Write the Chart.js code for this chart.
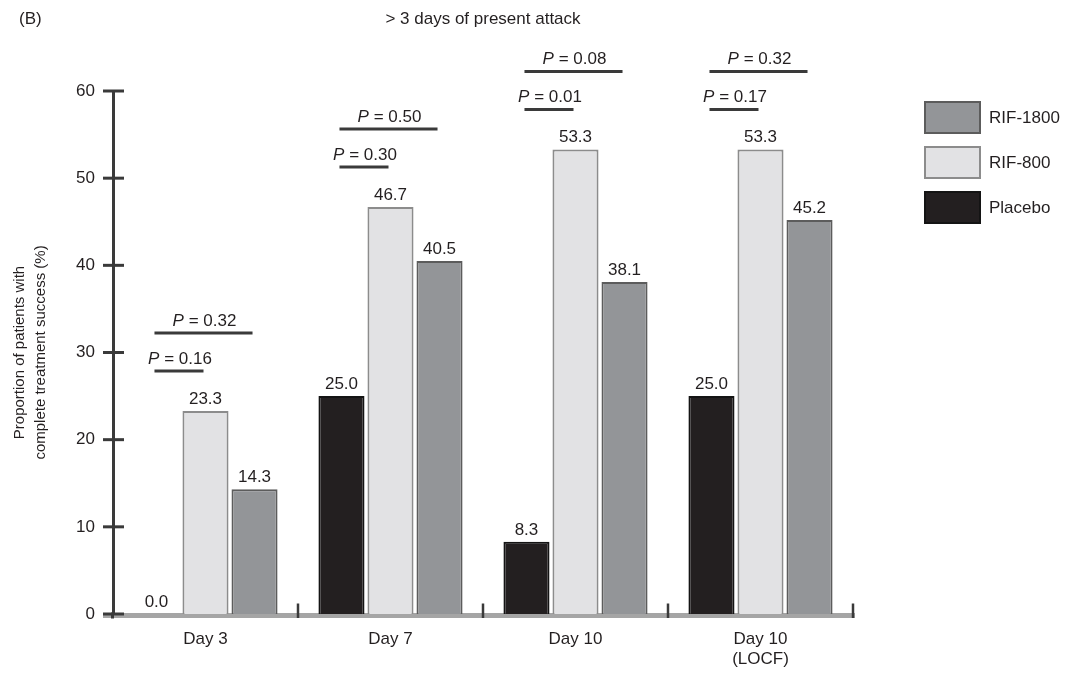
<!DOCTYPE html>
<html>
<head>
<meta charset="utf-8">
<title>Complete treatment success</title>
<script src="https://cdn.jsdelivr.net/npm/chart.js@4.4.1/dist/chart.umd.min.js"></script>
<style>
  html, body { margin: 0; padding: 0; background: #ffffff; }
  #wrap { width: 1065px; height: 673px; }
</style>
</head>
<body>
<div id="wrap"><canvas id="chart" width="1065" height="673"></canvas></div>
<script>
// Proportion of patients with complete treatment success, attacks lasting > 3 days
const categories = ['Day 3', 'Day 7', 'Day 10', ['Day 10', '(LOCF)']];
const seriesNames = ['Placebo', 'RIF-800', 'RIF-1800'];
const placebo = [0.0, 25.0, 8.3, 25.0];
const rif800 = [23.3, 46.7, 53.3, 53.3];
const rif1800 = [14.3, 40.5, 38.1, 45.2];
// P values versus placebo
const pVs800 = ['0.16', '0.30', '0.01', '0.17'];
const pVs1800 = ['0.32', '0.50', '0.08', '0.32'];
const yTickValues = [0, 10, 20, 30, 40, 50, 60];

const FONT = '"Liberation Sans", Arial, Helvetica, sans-serif';
const INK = '#231f20';
const fills = ['#231f20', '#e2e2e4', '#939598'];
const borders = ['#141414', '#8c8c8c', '#5c5c5c'];

function line(ctx, x1, y1, x2, y2) {
  ctx.beginPath();
  ctx.moveTo(x1, y1);
  ctx.lineTo(x2, y2);
  ctx.stroke();
}

function drawP(ctx, cx, baseY, value) {
  ctx.font = 'italic 17px ' + FONT;
  const wP = ctx.measureText('P').width;
  ctx.font = '17px ' + FONT;
  const rest = ' = ' + value;
  const wR = ctx.measureText(rest).width;
  const x0 = cx - (wP + wR) / 2;
  ctx.textAlign = 'left';
  ctx.textBaseline = 'alphabetic';
  ctx.font = 'italic 17px ' + FONT;
  ctx.fillText('P', x0, baseY);
  ctx.font = '17px ' + FONT;
  ctx.fillText(rest, x0 + wP, baseY);
}

const decor = {
  id: 'decor',
  beforeDatasetsDraw(chart) {
    const { ctx, chartArea, scales } = chart;
    const y = scales.y;
    const y0 = y.getPixelForValue(0) + 1.5;
    ctx.save();
    // grey baseline under the bars
    ctx.strokeStyle = '#a5a5a5';
    ctx.lineWidth = 5;
    line(ctx, chartArea.left - 10, y0, chartArea.right + 2, y0);
    // y axis carried down through the baseline
    ctx.strokeStyle = '#3a3a3a';
    ctx.lineWidth = 3;
    line(ctx, chartArea.left - 0.5, y0 - 3, chartArea.left - 0.5, y0 + 3);
    // tick marks at category boundaries
    const step = (chartArea.right - chartArea.left) / categories.length;
    ctx.lineWidth = 2.5;
    for (let i = 1; i <= categories.length; i++) {
      const bx = chartArea.left + step * i;
      line(ctx, bx, y0 + 2.5, bx, y0 - 12);
    }
    // y ticks crossing the axis
    ctx.lineWidth = 3;
    y.ticks.forEach(t => {
      const py = y.getPixelForValue(t.value);
      line(ctx, chartArea.left - 10, py, chartArea.left + 11, py);
    });
    ctx.restore();
  },
  afterDatasetsDraw(chart) {
    const { ctx } = chart;
    const metas = [0, 1, 2].map(i => chart.getDatasetMeta(i));
    ctx.save();
    ctx.fillStyle = INK;
    // value labels above bars
    ctx.font = '17px ' + FONT;
    ctx.textAlign = 'center';
    ctx.textBaseline = 'alphabetic';
    metas.forEach((meta, di) => {
      meta.data.forEach((bar, j) => {
        const v = chart.data.datasets[di].data[j];
        ctx.fillText(v.toFixed(1), bar.x, bar.y - 7);
      });
    });
    // comparison brackets with P values
    ctx.strokeStyle = '#3a3a3a';
    ctx.lineWidth = 3;
    categories.forEach((c, j) => {
      const top = Math.min(...metas.map(m => m.data[j].y));
      const shortY = top - 40;
      const longY = shortY - 38;
      const xp = metas[0].data[j].x;
      const x8 = metas[1].data[j].x;
      const x18 = metas[2].data[j].x;
      line(ctx, xp - 2, shortY, x8 - 2, shortY);
      line(ctx, xp - 2, longY, x18 - 2, longY);
      drawP(ctx, (xp + x8) / 2 - 1, shortY - 7, pVs800[j]);
      drawP(ctx, (xp + x18) / 2 - 1, longY - 7, pVs1800[j]);
    });
    // legend, highest dose first
    const order = [2, 1, 0];
    ctx.lineWidth = 2;
    order.forEach((di, k) => {
      const bx = 924, by = 101 + k * 45, bw = 57, bh = 33;
      ctx.fillStyle = fills[di];
      ctx.fillRect(bx, by, bw, bh);
      ctx.strokeStyle = borders[di];
      ctx.strokeRect(bx + 1, by + 1, bw - 2, bh - 2);
      ctx.fillStyle = INK;
      ctx.font = '17px ' + FONT;
      ctx.textAlign = 'left';
      ctx.textBaseline = 'middle';
      ctx.fillText(chart.data.datasets[di].label, bx + bw + 8, by + bh / 2 + 1);
    });
    // panel letter
    ctx.textAlign = 'left';
    ctx.textBaseline = 'middle';
    ctx.fillText('(B)', 19, 19);
    ctx.restore();
  }
};

new Chart(document.getElementById('chart'), {
  type: 'bar',
  data: {
    labels: categories,
    datasets: [placebo, rif800, rif1800].map((d, i) => ({
      label: seriesNames[i],
      data: d,
      backgroundColor: fills[i],
      borderColor: borders[i],
      borderWidth: 2,
      borderSkipped: 'start',
      categoryPercentage: 0.795,
      barPercentage: 0.94
    }))
  },
  options: {
    responsive: false,
    animation: false,
    devicePixelRatio: 1,
    layout: { padding: { left: 0, right: 212, top: 0, bottom: 0 } },
    plugins: {
      legend: { display: false },
      tooltip: { enabled: false },
      title: {
        display: true,
        text: '> 3 days of present attack',
        fullSize: false,
        color: INK,
        font: { family: FONT, size: 17, weight: 'normal' },
        padding: { top: 9, bottom: 61.6 }
      }
    },
    scales: {
      x: {
        grid: { display: false, drawTicks: false },
        border: { display: false },
        ticks: {
          color: INK,
          padding: 16,
          font: { family: FONT, size: 17, lineHeight: 1.15 }
        },
        afterFit(scale) { scale.height = 59; }
      },
      y: {
        min: 0,
        max: 60,
        afterBuildTicks(scale) { scale.ticks = yTickValues.map(v => ({ value: v })); },
        grid: { display: false, drawTicks: false },
        border: { display: true, color: '#3a3a3a', width: 3 },
        ticks: {
          color: INK,
          padding: 18,
          font: { family: FONT, size: 17 }
        },
        title: {
          display: true,
          text: ['Proportion of patients with', 'complete treatment success (%)'],
          color: INK,
          font: { family: FONT, size: 15, lineHeight: 1.4 },
          padding: { top: 9, bottom: 0 }
        },
        afterFit(scale) { scale.width = 113; }
      }
    }
  },
  plugins: [decor]
});
</script>
</body>
</html>
